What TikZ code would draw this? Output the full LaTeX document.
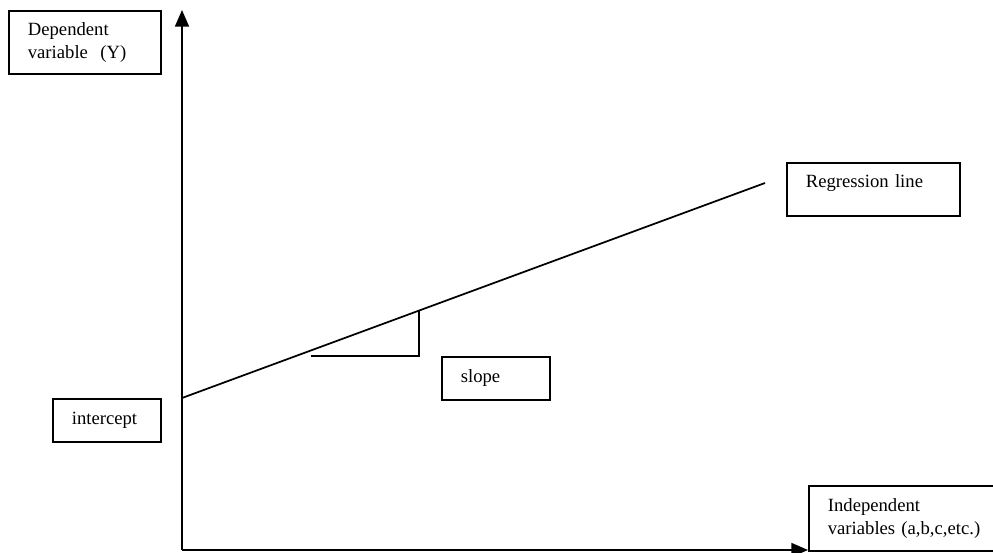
\documentclass[tikz,border=0pt]{standalone}
\usepackage{fontspec}
\setmainfont{Liberation Serif}
\usetikzlibrary{arrows.meta, positioning}

\begin{document}
\begin{tikzpicture}[
  x=0.75pt, y=-0.75pt,
  lbl/.style={draw, line width=1.3pt, anchor=north west, inner xsep=14.25pt, inner ysep=0pt, align=left, text width=#1, font=\fontsize{14}{17.25}\selectfont},
  axis/.style={line width=1.3pt, -{Triangle[length=12.5pt, width=10.5pt]}},
  ln/.style={line width=1.3pt}
]
  \useasboundingbox (0,0) rectangle (993,553);

  \coordinate (origin) at (182,550);
  \coordinate (ytop) at (182,10);
  \coordinate (xend) at (808,550);
  \coordinate (b0) at (182,398);
  \coordinate (b1) at (765,183);
  \coordinate (s1) at (311,356);
  \coordinate (s2) at (419,356);
  \coordinate (s3) at (419,311);

  \draw[axis] (origin) -- (ytop);
  \draw[axis] (origin) -- (xend);
  \draw[ln] (b0) -- (b1);
  \draw[ln] (s1) -- (s2) -- (s3);

  \node[lbl=85.5pt, minimum height=47.25pt] (dep) at (8,10) {Dependent\\variable\ \ (Y)};
  \node[lbl=101.25pt, minimum height=39.75pt, text depth=12pt] (reg) at (786,162) {Regression line};
  \node[lbl=52.5pt, minimum height=32.25pt] (slope) at (441,356) {slope};
  \node[lbl=52.5pt, minimum height=32.25pt] (icpt) at (52,398) {intercept};
  \node[lbl=120pt, minimum height=48.75pt] (indep) at (808,485) {Independent\\variables (a,b,c,etc.)};
\end{tikzpicture}
\end{document}
